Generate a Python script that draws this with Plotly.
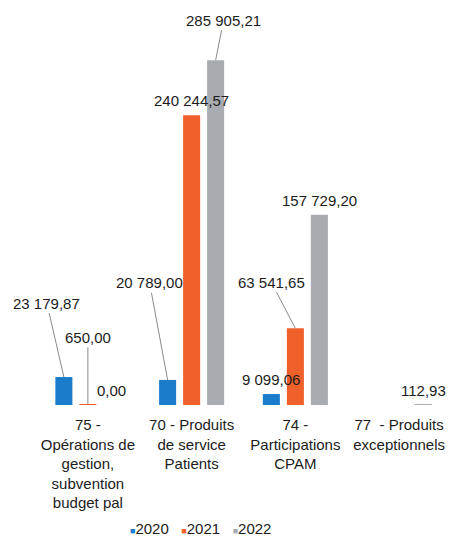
import plotly.graph_objects as go

# Categories (account lines) and yearly amounts in euros
categories = [
    "75 -<br>Opérations de<br>gestion,<br>subvention<br>budget pal",
    "70 - Produits<br>de service<br>Patients",
    "74 -<br>Participations<br>CPAM",
    "77  - Produits<br>exceptionnels",
]
years = ["2020", "2021", "2022"]
values_2020 = [23179.87, 20789.00, 9099.06, None]
values_2021 = [650.00, 240244.57, 63541.65, None]
values_2022 = [0.00, 285905.21, 157729.20, 112.93]

series = [values_2020, values_2021, values_2022]
colors = ["#1b7ccc", "#f0602b", "#a8abaf"]

# labels drawn with a leader line: (series index, category index) -> (dx, dy) in px
callouts = {
    (0, 0): (-17, -74),
    (1, 0): (0, -67),
    (0, 1): (-18, -97),
    (2, 1): (8, -40),
    (1, 2): (-24, -46),
}

FONT = "Arial, Liberation Sans, sans-serif"
TXT = "#1c1c1c"


def fr(v):
    return f"{v:,.2f}".replace(",", " ").replace(".", ",")


BARGAP = 0.306
slot = (1 - BARGAP) / 3

fig = go.Figure()
annotations = []
xs = list(range(len(categories)))
for si, (yr, vals, col) in enumerate(zip(years, series, colors)):
    fig.add_trace(go.Bar(
        x=xs, y=vals, name=yr, marker_color=col, marker_line_width=0,
        cliponaxis=False, showlegend=False,
    ))
    # value labels sit on top of all bars
    for ci, v in enumerate(vals):
        if v is None:
            continue
        xpos = ci + (si - 1) * slot
        if (si, ci) in callouts:
            dx, dy = callouts[(si, ci)]
            annotations.append(dict(
                x=xpos, y=v, xref="x", yref="y",
                text=fr(v), showarrow=True, arrowhead=0, arrowwidth=1,
                arrowcolor="#8a8a8a", ax=dx, ay=dy, standoff=0,
                font=dict(family=FONT, size=15, color=TXT),
            ))
        else:
            annotations.append(dict(
                x=xpos, y=v, xref="x", yref="y", text=fr(v),
                showarrow=False, yanchor="bottom", yshift=4,
                font=dict(family=FONT, size=15, color=TXT),
            ))

# compact legend row, placed in pixels below the plot area
sq = '<span style="font-size:9px">■</span>'
legend_txt = "&nbsp;&nbsp;&nbsp;".join(
    f'<span style="color:{c}">{sq}</span>{y}' for c, y in zip(colors, years)
)
annotations.append(dict(
    x=(200 - 36) / 415, y=-(528 - 405) / 398, xref="paper", yref="paper",
    xanchor="center", yanchor="middle",
    text=legend_txt, showarrow=False,
    font=dict(family=FONT, size=15, color=TXT),
))

fig.update_layout(
    width=452, height=537,
    margin=dict(l=36, r=1, t=7, b=132),
    paper_bgcolor="white", plot_bgcolor="white",
    barmode="group", bargap=BARGAP, bargroupgap=0.29,
    xaxis=dict(
        range=[-0.5, 3.5], tickvals=xs, ticktext=categories,
        showgrid=False, zeroline=False, showline=False, ticks="",
        tickfont=dict(family=FONT, size=15, color=TXT),
        ticklabelstandoff=9,
    ),
    yaxis=dict(range=[0, 330000], visible=False, showgrid=False, zeroline=False),
    annotations=annotations,
)

fig.write_html("out.html")
